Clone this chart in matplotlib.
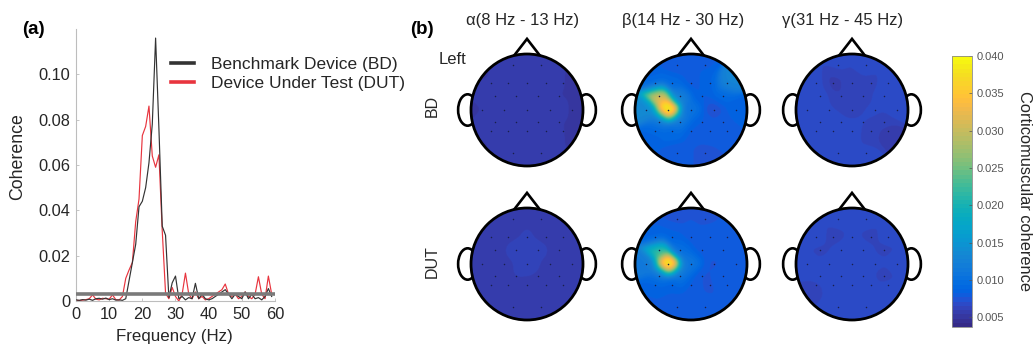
import numpy as np
import matplotlib
matplotlib.use("Agg")
import matplotlib.pyplot as plt
from matplotlib.colors import ListedColormap, Normalize
from matplotlib.patches import Circle, Ellipse, Polygon
from matplotlib.cm import ScalarMappable

plt.rcParams['font.family'] = ['Liberation Sans', 'DejaVu Sans']

# ---------------- data: coherence spectra (1 Hz bins) ----------------
freq_hz = list(range(0, 60))
coh_bd = [0.0005, 0.0003, 0.0006, 0.0004, 0.0008, 0.0003, 0.0010, 0.0012, 0.0008, 0.0013,
          0.0006, 0.0010, 0.0004, 0.0005, 0.0003, 0.0010, 0.0090, 0.0170, 0.0250, 0.0416,
          0.0440, 0.0500, 0.0610, 0.0780, 0.1160, 0.0760, 0.0330, 0.0290, 0.0015, 0.0080,
          0.0110, 0.0010, 0.0020, 0.0005, 0.0015, 0.0010, 0.0078, 0.0010, 0.0030, 0.0010,
          0.0005, 0.0010, 0.0020, 0.0030, 0.0040, 0.0050, 0.0030, 0.0010, 0.0030, 0.0020,
          0.0010, 0.0040, 0.0010, 0.0030, 0.0010, 0.0015, 0.0005, 0.0020, 0.0055, 0.0020]
coh_dut = [0.0003, 0.0002, 0.0004, 0.0006, 0.0010, 0.0027, 0.0008, 0.0005, 0.0012, 0.0010,
           0.0008, 0.0027, 0.0006, 0.0004, 0.0020, 0.0100, 0.0137, 0.0170, 0.0350, 0.0450,
           0.0730, 0.0770, 0.0860, 0.0640, 0.0590, 0.0645, 0.0310, 0.0035, 0.0010, 0.0060,
           0.0020, 0.0000, 0.0030, 0.0123, 0.0030, 0.0010, 0.0040, 0.0010, 0.0020, 0.0005,
           0.0010, 0.0020, 0.0030, 0.0040, 0.0050, 0.0075, 0.0030, 0.0020, 0.0030, 0.0010,
           0.0020, 0.0040, 0.0020, 0.0010, 0.0030, 0.0107, 0.0030, 0.0010, 0.0110, 0.0030]
significance_level = 0.0033

# ---------------- data: band-wise topographies ----------------
electrodes = ['Fp1', 'Fp2',
              'F7', 'F3', 'Fz', 'F4', 'F8',
              'FC5', 'FC1', 'FC2', 'FC6',
              'T7', 'C3', 'Cz', 'C4', 'T8',
              'CP5', 'CP1', 'CP2', 'CP6',
              'P7', 'P3', 'Pz', 'P4', 'P8',
              'O1', 'O2']
band_titles = ['α(8 Hz - 13 Hz)', 'β(14 Hz - 30 Hz)', 'γ(31 Hz - 45 Hz)']
device_labels = ['BD', 'DUT']

alpha_bd = [0.0055, 0.0056, 0.0054, 0.0055, 0.0056, 0.0055, 0.0054,
            0.0055, 0.0056, 0.0056, 0.0054, 0.0054, 0.0055, 0.0056, 0.0055, 0.0054,
            0.0055, 0.0056, 0.0055, 0.0054, 0.0054, 0.0055, 0.0055, 0.0055, 0.0054,
            0.0055, 0.0055]
alpha_dut = [0.0057, 0.0057, 0.0056, 0.0058, 0.0060, 0.0058, 0.0056,
             0.0057, 0.0063, 0.0062, 0.0057, 0.0056, 0.0058, 0.0064, 0.0058, 0.0056,
             0.0057, 0.0060, 0.0059, 0.0057, 0.0056, 0.0057, 0.0058, 0.0057, 0.0056,
             0.0057, 0.0057]
beta_bd = [0.0078, 0.0082, 0.0086, 0.0090, 0.0080, 0.0086, 0.0130,
           0.0320, 0.0120, 0.0082, 0.0090, 0.0135, 0.0410, 0.0105, 0.0072, 0.0085,
           0.0115, 0.0115, 0.0082, 0.0080, 0.0085, 0.0090, 0.0080, 0.0080, 0.0082,
           0.0080, 0.0076]
beta_dut = [0.0076, 0.0076, 0.0082, 0.0084, 0.0080, 0.0080, 0.0082,
            0.0220, 0.0098, 0.0080, 0.0080, 0.0115, 0.0410, 0.0110, 0.0076, 0.0080,
            0.0110, 0.0110, 0.0076, 0.0080, 0.0082, 0.0082, 0.0080, 0.0076, 0.0080,
            0.0080, 0.0080]
gamma_bd = [0.0066, 0.0068, 0.0068, 0.0058, 0.0062, 0.0064, 0.0068,
            0.0068, 0.0060, 0.0064, 0.0068, 0.0070, 0.0066, 0.0064, 0.0066, 0.0068,
            0.0068, 0.0066, 0.0066, 0.0064, 0.0068, 0.0066, 0.0068, 0.0062, 0.0056,
            0.0066, 0.0066]
gamma_dut = [0.0068, 0.0068, 0.0070, 0.0063, 0.0066, 0.0064, 0.0068,
             0.0064, 0.0068, 0.0068, 0.0064, 0.0070, 0.0068, 0.0070, 0.0068, 0.0070,
             0.0068, 0.0070, 0.0068, 0.0062, 0.0064, 0.0068, 0.0066, 0.0068, 0.0068,
             0.0070, 0.0068]
topo_values = [[alpha_bd, beta_bd, gamma_bd],
               [alpha_dut, beta_dut, gamma_dut]]
color_min, color_max = 0.0037, 0.040
cbar_ticks = [0.005, 0.010, 0.015, 0.020, 0.025, 0.030, 0.035, 0.040]

# 2-D montage (unit head radius, nose up)
montage = {
    'Fp1': (-0.25, 0.80), 'Fp2': (0.25, 0.80),
    'F7': (-0.64, 0.49), 'F3': (-0.34, 0.49), 'Fz': (0.0, 0.49), 'F4': (0.34, 0.49), 'F8': (0.64, 0.49),
    'FC5': (-0.57, 0.25), 'FC1': (-0.20, 0.25), 'FC2': (0.20, 0.25), 'FC6': (0.57, 0.25),
    'T7': (-0.80, 0.0), 'C3': (-0.41, 0.0), 'Cz': (0.0, 0.0), 'C4': (0.41, 0.0), 'T8': (0.80, 0.0),
    'CP5': (-0.57, -0.21), 'CP1': (-0.20, -0.21), 'CP2': (0.20, -0.21), 'CP6': (0.57, -0.21),
    'P7': (-0.64, -0.38), 'P3': (-0.34, -0.38), 'Pz': (0.0, -0.38), 'P4': (0.34, -0.38), 'P8': (0.64, -0.38),
    'O1': (-0.25, -0.77), 'O2': (0.25, -0.77),
}

# MATLAB parula colour table
parula_rgb = [
    (0.2081, 0.1663, 0.5292), (0.2116, 0.1898, 0.5777), (0.2123, 0.2138, 0.6270), (0.2081, 0.2386, 0.6771),
    (0.1959, 0.2645, 0.7279), (0.1707, 0.2919, 0.7792), (0.1253, 0.3242, 0.8303), (0.0591, 0.3598, 0.8683),
    (0.0117, 0.3875, 0.8820), (0.0060, 0.4086, 0.8828), (0.0165, 0.4266, 0.8786), (0.0329, 0.4430, 0.8720),
    (0.0498, 0.4586, 0.8641), (0.0629, 0.4737, 0.8554), (0.0723, 0.4887, 0.8467), (0.0779, 0.5040, 0.8384),
    (0.0793, 0.5200, 0.8312), (0.0749, 0.5375, 0.8263), (0.0641, 0.5570, 0.8240), (0.0488, 0.5772, 0.8228),
    (0.0343, 0.5966, 0.8199), (0.0265, 0.6137, 0.8135), (0.0239, 0.6287, 0.8038), (0.0231, 0.6418, 0.7913),
    (0.0228, 0.6535, 0.7768), (0.0267, 0.6642, 0.7607), (0.0384, 0.6743, 0.7436), (0.0590, 0.6838, 0.7254),
    (0.0843, 0.6928, 0.7062), (0.1133, 0.7015, 0.6859), (0.1453, 0.7098, 0.6646), (0.1801, 0.7177, 0.6424),
    (0.2178, 0.7250, 0.6193), (0.2586, 0.7317, 0.5954), (0.3022, 0.7376, 0.5712), (0.3482, 0.7424, 0.5473),
    (0.3953, 0.7459, 0.5244), (0.4420, 0.7481, 0.5033), (0.4871, 0.7491, 0.4840), (0.5300, 0.7491, 0.4661),
    (0.5709, 0.7485, 0.4494), (0.6099, 0.7473, 0.4337), (0.6473, 0.7456, 0.4188), (0.6834, 0.7435, 0.4044),
    (0.7184, 0.7411, 0.3905), (0.7525, 0.7384, 0.3768), (0.7858, 0.7356, 0.3633), (0.8185, 0.7327, 0.3498),
    (0.8507, 0.7299, 0.3360), (0.8824, 0.7274, 0.3217), (0.9139, 0.7258, 0.3063), (0.9450, 0.7261, 0.2886),
    (0.9739, 0.7314, 0.2666), (0.9938, 0.7455, 0.2403), (0.9990, 0.7653, 0.2164), (0.9955, 0.7861, 0.1967),
    (0.9880, 0.8066, 0.1794), (0.9789, 0.8271, 0.1633), (0.9697, 0.8481, 0.1475), (0.9626, 0.8705, 0.1309),
    (0.9589, 0.8949, 0.1132), (0.9598, 0.9218, 0.0948), (0.9661, 0.9514, 0.0755), (0.9763, 0.9831, 0.0538),
]
parula = ListedColormap(parula_rgb, name='parula')

W, H = 1035, 353
fig = plt.figure(figsize=(W / 100, H / 100), dpi=100)
fig.patch.set_facecolor('white')
TXT = '#262626'


def px_axes(left, top, right, bottom):
    """Axes placed by pixel edges (origin top-left)."""
    return fig.add_axes([left / W, 1 - bottom / H, (right - left) / W, (bottom - top) / H])


def fig_text(x, y, s, **kw):
    fig.text(x / W, 1 - y / H, s, **kw)


# ---------------- panel (a): coherence spectrum ----------------
ax = px_axes(76, 29, 275, 301)
ax.plot(freq_hz, coh_bd, color='#333333', lw=0.85, label='Benchmark Device (BD)', zorder=3)
ax.plot(freq_hz, coh_dut, color='#e8343e', lw=0.85, label='Device Under Test (DUT)', zorder=2)
ax.axhline(significance_level, color='#7a7a7a', lw=2.6, zorder=4)
ax.set_xlim(0, 60)
ax.set_ylim(0, 0.12)
ax.set_xticks(range(0, 61, 10))
ax.set_yticks([0, 0.02, 0.04, 0.06, 0.08, 0.10])
ax.set_yticklabels(['0', '0.02', '0.04', '0.06', '0.08', '0.10'])
for side in ('top', 'right'):
    ax.spines[side].set_visible(False)
for side in ('left', 'bottom'):
    ax.spines[side].set_color('#bdbdbd')
    ax.spines[side].set_linewidth(0.8)
ax.tick_params(direction='in', length=2.5, width=0.6, color='#bdbdbd',
               labelsize=11.8, labelcolor=TXT, pad=4)
leg = ax.legend(loc='upper left', bbox_to_anchor=(171 / W, 1 - 57 / H),
                bbox_transform=fig.transFigure, frameon=False, fontsize=12.5,
                handlelength=1.35, handletextpad=0.95, labelspacing=0.2,
                borderpad=0, borderaxespad=0)
for line in leg.get_lines():
    line.set_linewidth(2.6)
for t in leg.get_texts():
    t.set_color(TXT)
fig_text(174, 337, 'Frequency (Hz)', fontsize=12.2, color=TXT, ha='center', va='center')
fig_text(18, 157, 'Coherence', fontsize=12.8, color=TXT, ha='center', va='center', rotation=90)
fig_text(22, 30, '(a)', fontsize=13.5, fontweight='bold', color='black', ha='left', va='center')

# ---------------- panel (b): scalp maps ----------------
fig_text(410, 30, '(b)', fontsize=13.5, fontweight='bold', color='black', ha='left', va='center')

ex = np.array([montage[e][0] for e in electrodes])
ey = np.array([montage[e][1] for e in electrodes])
KERNEL_WIDTH = 0.165


def smooth_surface(values, n=241):
    """Gaussian-weighted (Shepard) interpolation of electrode values onto the scalp disk."""
    v = np.asarray(values, dtype=float)
    g = np.linspace(-1, 1, n)
    gx, gy = np.meshgrid(g, g)
    dg = np.hypot(gx[..., None] - ex, gy[..., None] - ey)
    k = np.exp(-(dg / KERNEL_WIDTH) ** 2) + 1e-12
    return (k @ v) / k.sum(axis=-1)


col_cx = [527, 691, 852]
row_cy = [110, 264]
R = 56.0
xr, yb, yt = 1.32, 1.08, 1.35
norm = Normalize(color_min, color_max)

for r, cy in enumerate(row_cy):
    for c, cx in enumerate(col_cx):
        tax = px_axes(cx - xr * R, cy - yt * R, cx + xr * R, cy + yb * R)
        tax.set_xlim(-xr, xr)
        tax.set_ylim(-yb, yt)
        tax.axis('off')
        # ears and nose
        for sx in (-1, 1):
            tax.add_patch(Ellipse((sx * 1.06, 0.0), 0.34, 0.56, facecolor='white',
                                  edgecolor='black', lw=1.9, zorder=1))
        tax.add_patch(Polygon([(-0.24, 0.96), (0.0, 1.27), (0.24, 0.96)], closed=True,
                              facecolor='white', edgecolor='black', lw=1.9,
                              joinstyle='miter', zorder=1))
        z = smooth_surface(topo_values[r][c])
        im = tax.imshow(z, origin='lower', extent=(-1, 1, -1, 1), cmap=parula, norm=norm,
                        interpolation='bilinear', zorder=2)
        im.set_clip_path(Circle((0, 0), 1.0, transform=tax.transData))
        tax.scatter(ex, ey, s=1.2, color='#1a1f4a', linewidths=0, zorder=3)
        tax.add_patch(Circle((0, 0), 1.0, facecolor='none', edgecolor='black', lw=2.0, zorder=4))

title_x = [523, 683, 843]
for tx, title in zip(title_x, band_titles):
    fig_text(tx, 20, title, fontsize=12, color=TXT, ha='center', va='center')
fig_text(432, 106, device_labels[0], fontsize=11.5, color=TXT, ha='center', va='center', rotation=90)
fig_text(432, 262, device_labels[1], fontsize=11.5, color=TXT, ha='center', va='center', rotation=90)
fig_text(453, 60, 'Left', fontsize=12, color=TXT, ha='center', va='center')

# colour bar
cax = px_axes(952, 56, 972, 327)
cb = fig.colorbar(ScalarMappable(norm=norm, cmap=parula), cax=cax, ticks=cbar_ticks)
cb.ax.set_yticklabels(['%.3f' % t for t in cbar_ticks])
cb.ax.tick_params(labelsize=8, labelcolor='#555555', color='#555555', length=2,
                  width=0.5, direction='in', pad=3)
cb.outline.set_edgecolor('#8a8a8a')
cb.outline.set_linewidth(0.6)
fig_text(1024, 191, 'Corticomuscular coherence', fontsize=11.8, color=TXT,
         ha='center', va='center', rotation=-90)

fig.savefig('out.png', dpi=100, facecolor='white')
